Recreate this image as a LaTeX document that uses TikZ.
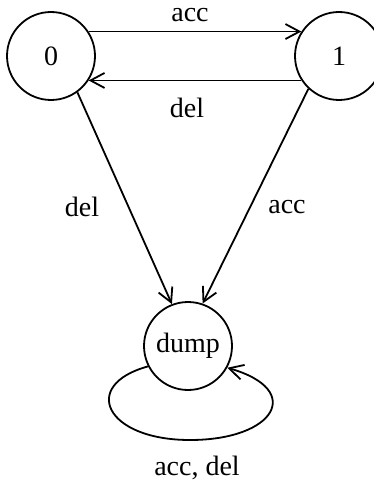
\documentclass[tikz,border=0pt]{standalone}
\usepackage{fontspec}
\setmainfont{Liberation Serif}
\usetikzlibrary{arrows.meta}
\tikzset{
    state/.style={draw, circle, line width=0.9pt, minimum size=44pt, inner sep=0pt},
    trans/.style={line width=0.9pt, -{Straight Barb[length=7pt,width=7.5pt]}},
    lbl/.style={inner sep=1pt}
}

\begin{document}
\begin{tikzpicture}[x=0.5pt, y=-0.5pt, font=\fontsize{14}{16}\selectfont]

	\useasboundingbox (0,0) rectangle (374,481);

	% states
	\node[state] (n0) at (51,56) {0};
	\node[state] (n1) at (339,56) {1};
	\node[state] (dump) at (188,346) {dump};

	% transitions between 0 and 1
	\draw[trans] (n0.33) -- (n1.147);
	\draw[trans] (n1.-147) -- (n0.-33);

	\node[lbl] (accTop) at (190,15) {acc};
	\node[lbl] (delMid) at (187,108) {del};

	% into the dump state
	\draw[trans] (n0.-54) -- (dump.111);
	\draw[trans] (n1.-133) -- (dump.71);

	\node[lbl] (delLeft) at (82,207) {del};
	\node[lbl] (accRight) at (287,207) {acc};

	% self loop
	\draw[trans] (dump.207) .. controls (80,385) and (105,440) .. (190,440)
		.. controls (275,440) and (305,390) .. (dump.-29);

	\node[lbl] (accDel) at (197,468) {acc, del};

\end{tikzpicture}
\end{document}
